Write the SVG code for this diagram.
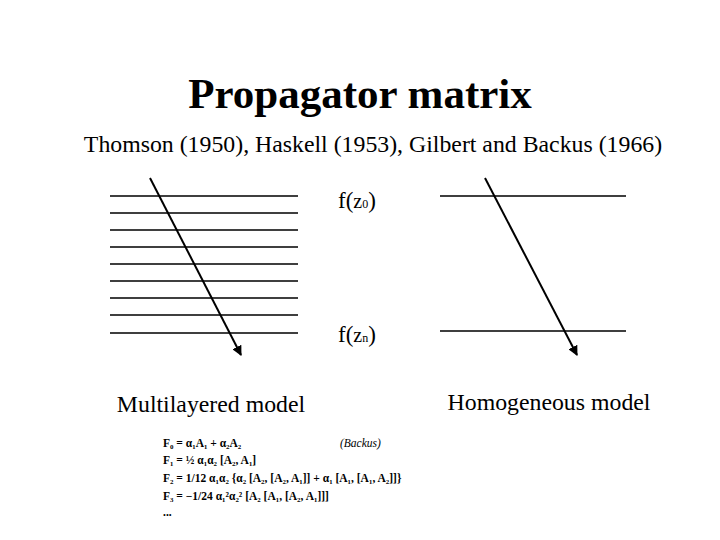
<svg xmlns="http://www.w3.org/2000/svg" width="720" height="540" viewBox="0 0 720 540">
<defs><style>
.t{font-family:"Liberation Serif","Times New Roman",serif;fill:#000}
.l{stroke:#000;stroke-width:1.3}
.a{stroke:#000;stroke-width:2;marker-end:url(#ar)}
.f{font-family:"Liberation Serif",serif;font-size:11.5px;font-weight:bold}
</style>
<marker id="ar" viewBox="0 0 10 10" refX="9" refY="5" markerWidth="5" markerHeight="5" orient="auto"><path d="M0,0L10,5L0,10z"/></marker></defs>
<rect width="720" height="540" fill="#fff"/>
<text class="t" x="360" y="108" font-size="43" font-weight="bold" text-anchor="middle">Propagator matrix</text>
<text class="t" x="373" y="152" font-size="23.8" text-anchor="middle">Thomson (1950), Haskell (1953), Gilbert and Backus (1966)</text>
<g id="multilayer">
<path class="l" d="M110,196H298M110,213H298M110,230H298M110,247H298M110,264H298M110,281H298M110,298H298M110,315H298M110,333H298"/>
</g>
<g id="homogeneous">
<path class="l" d="M440,196H626M440,331H626"/>
</g>
<g id="connectors">
<line class="a" x1="150" y1="178" x2="241" y2="355"/>
<line class="a" x1="485" y1="178" x2="577" y2="355"/>
</g>
<text class="t" x="338" y="208" font-size="23">f(<tspan font-size="20">z</tspan><tspan font-size="12">0</tspan>)</text>
<text class="t" x="338" y="342" font-size="23">f(<tspan font-size="20">z</tspan><tspan font-size="12">n</tspan>)</text>
<text class="t" x="211" y="412" font-size="23.8" text-anchor="middle">Multilayered model</text>
<text class="t" x="549" y="410" font-size="23.8" text-anchor="middle">Homogeneous model</text>
<g class="f">
<text x="163" y="447">F₀ = α₁A₁ + α₂A₂ <tspan x="340" font-style="italic" font-weight="normal">(Backus)</tspan></text>
<text x="163" y="464">F₁ = ½ α₁α₂ [A₂, A₁]</text>
<text x="163" y="482">F₂ = 1/12 α₁α₂ {α₂ [A₂, [A₂, A₁]] + α₁ [A₁, [A₁, A₂]]}</text>
<text x="163" y="500">F₃ = −1/24 α₁²α₂² [A₂ [A₁, [A₂, A₁]]]</text>
<text x="163" y="516">...</text>
</g>
</svg>
